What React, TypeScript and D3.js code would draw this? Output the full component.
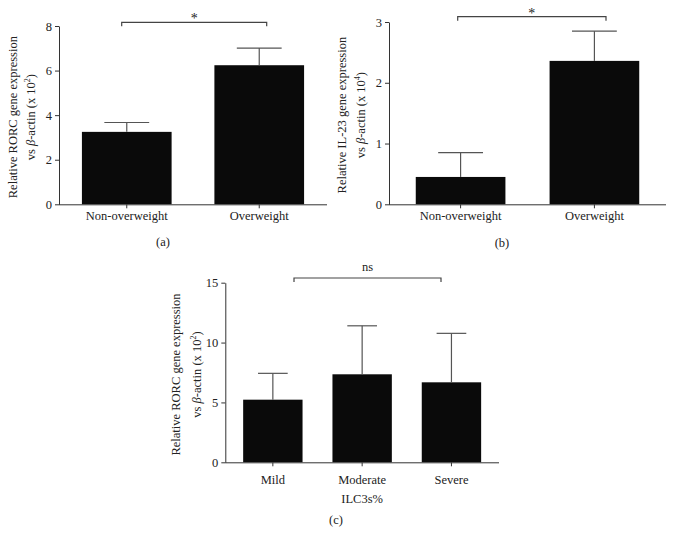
import React, { useEffect, useRef } from 'react';
import * as d3 from 'd3';

// panel (a) RORC vs weight
const weightGroups = ['Non-overweight', 'Overweight'];
const rorcWeightMeans = [3.25, 6.24];
const rorcWeightErrors = [0.42, 0.77];
const rorcWeightTicks = [0, 2, 4, 6, 8];

// panel (b) IL-23 vs weight
const il23WeightMeans = [0.45, 2.36];
const il23WeightErrors = [0.4, 0.49];
const il23WeightTicks = [0, 1, 2, 3];

// panel (c) RORC vs ILC3s% severity
const severityGroups = ['Mild', 'Moderate', 'Severe'];
const rorcSeverityMeans = [5.23, 7.35, 6.68];
const rorcSeverityErrors = [2.2, 4.05, 4.09];
const rorcSeverityTicks = [0, 5, 10, 15];

const FONT = '"Liberation Serif", "Times New Roman", serif';
const AXIS = '#333';

const App = () => {
  const ref = useRef<SVGSVGElement>(null);

  useEffect(() => {
    const svg = d3.select(ref.current);

    const panels = [
      {
        cats: weightGroups, means: rorcWeightMeans, errs: rorcWeightErrors, ticks: rorcWeightTicks,
        left: 59, right: 327, top: 26, bottom: 204.3, pi: 0.323, po: 0.173,
        gene: 'RORC', exp: '2', lab1: 42, lab2: 24, tickPad: 3,
        sig: '*', sigFrom: 121.7, sigTo: 266.7, sigY: 22.3, tag: '(a)', tagX: 163, tagY: 246
      },
      {
        cats: weightGroups, means: il23WeightMeans, errs: il23WeightErrors, ticks: il23WeightTicks,
        left: 389, right: 666, top: 22, bottom: 204.3, pi: 0.33, po: 0.2,
        gene: 'IL-23', exp: '4', lab1: 43, lab2: 24, tickPad: 3,
        sig: '*', sigFrom: 457.7, sigTo: 606, sigY: 16.7, tag: '(b)', tagX: 502, tagY: 246.5
      },
      {
        cats: severityGroups, means: rorcSeverityMeans, errs: rorcSeverityErrors, ticks: rorcSeverityTicks,
        left: 225.3, right: 499, top: 282.7, bottom: 462.3, pi: 0.335, po: 0.2,
        gene: 'RORC', exp: '2', lab1: 45, lab2: 24, tickPad: 9,
        sig: 'ns', sigFrom: 294, sigTo: 441, sigY: 278, tag: '(c)', tagX: 336, tagY: 524,
        xTitle: 'ILC3s%'
      }
    ];

    panels.forEach(p => {
      const g = svg.append('g');
      const x = d3.scaleBand().domain(p.cats).range([p.left, p.right])
        .paddingInner(p.pi).paddingOuter(p.po);
      const y = d3.scaleLinear()
        .domain([0, p.ticks[p.ticks.length - 1]])
        .range([p.bottom, p.top]);

      // bars
      g.selectAll('.bar')
        .data(p.means)
        .enter().append('rect')
        .attr('x', (d, i) => x(p.cats[i]))
        .attr('y', d => y(d))
        .attr('width', x.bandwidth())
        .attr('height', d => y(0) - y(d))
        .attr('fill', '#0a0a0a');

      // upper error bars
      const cap = x.bandwidth() * 0.25;
      p.means.forEach((m, i) => {
        const cx = x(p.cats[i]) + x.bandwidth() / 2;
        g.append('line')
          .attr('x1', cx).attr('x2', cx)
          .attr('y1', y(m)).attr('y2', y(m + p.errs[i]))
          .attr('stroke', '#555').attr('stroke-width', 1.2);
        g.append('line')
          .attr('x1', cx - cap).attr('x2', cx + cap)
          .attr('y1', y(m + p.errs[i])).attr('y2', y(m + p.errs[i]))
          .attr('stroke', '#555').attr('stroke-width', 1.2);
      });

      // y axis
      const yAxisG = g.append('g')
        .attr('transform', `translate(${p.left},0)`)
        .call(d3.axisLeft(y).tickValues(p.ticks).tickFormat(d3.format('d'))
          .tickSize(4).tickSizeOuter(0).tickPadding(3));
      yAxisG.selectAll('text').style('font-family', FONT).style('font-size', '12.5px').style('fill', '#222');
      yAxisG.selectAll('line').style('stroke', AXIS);
      yAxisG.select('.domain').style('stroke', AXIS);

      // x axis
      const xAxisG = g.append('g')
        .attr('transform', `translate(0,${p.bottom})`)
        .call(d3.axisBottom(x).tickSize(4).tickSizeOuter(0).tickPadding(p.tickPad));
      xAxisG.select('.domain').attr('d', `M${p.left},0.5H${p.right}`).style('stroke', AXIS);
      xAxisG.selectAll('text').style('font-family', FONT).style('font-size', '12.5px').style('fill', '#222');
      xAxisG.selectAll('line').style('stroke', AXIS);

      if (p.xTitle) {
        g.append('text')
          .attr('x', x(p.cats[1]) + x.bandwidth() / 2)
          .attr('y', p.bottom + 41)
          .attr('text-anchor', 'middle')
          .style('font-family', FONT).style('font-size', '12.5px').style('fill', '#222')
          .text(p.xTitle);
      }

      // y label, two lines
      const cy = (p.top + p.bottom) / 2 + 2;
      g.append('text')
        .attr('transform', `translate(${p.left - p.lab1},${cy}) rotate(-90)`)
        .attr('text-anchor', 'middle')
        .style('font-family', FONT).style('font-size', '12.5px').style('fill', '#222')
        .text(`Relative ${p.gene} gene expression`);
      const l2 = g.append('text')
        .attr('transform', `translate(${p.left - p.lab2},${cy}) rotate(-90)`)
        .attr('text-anchor', 'middle')
        .style('font-family', FONT).style('font-size', '12.5px').style('fill', '#222');
      l2.append('tspan').text('vs ');
      l2.append('tspan').style('font-style', 'italic').text('β');
      l2.append('tspan').text('-actin (x 10');
      l2.append('tspan').attr('dy', -5).style('font-size', '8px').text(p.exp);
      l2.append('tspan').attr('dy', 5).text(')');

      // significance bracket
      g.append('path')
        .attr('d', `M${p.sigFrom},${p.sigY + 4}V${p.sigY}H${p.sigTo}V${p.sigY + 4}`)
        .attr('fill', 'none').attr('stroke', '#444').attr('stroke-width', 1.2);
      g.append('text')
        .attr('x', (p.sigFrom + p.sigTo) / 2)
        .attr('y', p.sig === 'ns' ? p.sigY - 7 : p.sigY + 1)
        .attr('text-anchor', 'middle')
        .style('font-family', FONT).style('font-size', p.sig === 'ns' ? '12.5px' : '14px').style('fill', '#222')
        .text(p.sig);

      // panel tag
      g.append('text')
        .attr('x', p.tagX).attr('y', p.tagY)
        .attr('text-anchor', 'middle')
        .style('font-family', FONT).style('font-size', '12.5px').style('fill', '#222')
        .text(p.tag);
    });

    return () => {
      svg.selectAll('*').remove();
    };
  }, []);

  return (
    <svg ref={ref} width={675} height={547}
      style={{ position: 'absolute', left: 0, top: 0, background: '#fff' }} />
  );
};

export default App;
